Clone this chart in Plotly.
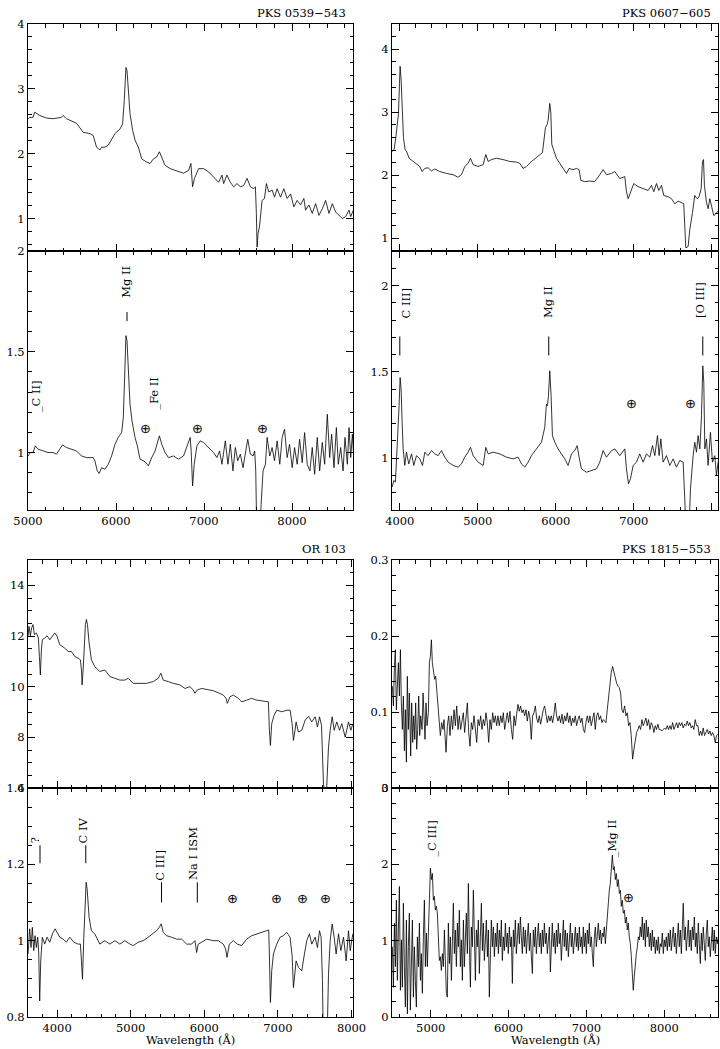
import plotly.graph_objects as go

# ---------------- DATA ----------------
# PKS 0539-543 : flux (upper) and normalised (lower)
tl_up_wave = [5000,5019,5057,5076,5133,5209,5285,5380,5399,5437,5551,5627,5703,5741,5779,5817,5836,5874,5912,5950,
              5988,6045,6075,6094,6113,6125,6140,6159,6189,6216,6254,6292,6349,6387,6425,6463,6493,6520,6558,6615,
              6691,6767,6824,6851,6870,6892,6938,6995,7052,7109,7166,7204,7223,7261,7299,7337,7375,7413,7451,7489,
              7527,7565,7584,7595,7603,7614,7630,7660,7687,7709,7736,7774,7801,7831,7869,7907,7945,7983,8021,8059,
              8097,8135,8154,8192,8230,8268,8306,8344,8382,8420,8458,8496,8534,8572,8610,8648,8667,8697]
tl_up_flux = [2.54,2.56,2.56,2.64,2.59,2.55,2.54,2.56,2.59,2.54,2.47,2.33,2.31,2.28,2.10,2.06,2.10,2.10,2.13,2.21,
              2.31,2.38,2.46,2.82,3.33,3.28,3.03,2.62,2.36,2.21,2.10,1.92,1.87,1.85,1.92,1.95,2.03,1.95,1.82,1.77,
              1.74,1.70,1.74,1.85,1.49,1.62,1.77,1.77,1.72,1.64,1.56,1.67,1.54,1.67,1.56,1.49,1.54,1.49,1.51,1.62,
              1.49,1.46,1.49,1.08,0.56,0.77,0.87,1.28,1.31,1.54,1.41,1.44,1.33,1.46,1.33,1.46,1.31,1.38,1.18,1.28,
              1.21,1.31,1.13,1.21,1.08,1.23,1.05,1.15,1.28,1.08,1.23,1.10,1.05,1.00,1.03,1.13,1.03,1.13]
tl_lo_wave = [5000,5027,5057,5084,5114,5171,5228,5285,5323,5361,5391,5437,5494,5551,5608,5665,5741,5760,5787,5809,
              5836,5874,5912,5950,5988,6026,6064,6083,6098,6113,6125,6140,6159,6182,6216,6243,6273,6330,6368,6406,
              6444,6493,6520,6558,6596,6653,6710,6767,6805,6843,6854,6870,6889,6919,6957,6995,7033,7071,7109,7147,
              7177,7204,7242,7272,7299,7329,7356,7383,7413,7443,7470,7497,7527,7557,7576,7588,7599,7633,7649,7671,
              7698,7717,7747,7774,7801,7831,7861,7888,7915,7945,7972,8002,8029,8059,8086,8116,8143,8173,8203,8230,
              8257,8287,8314,8344,8371,8401,8428,8450,8477,8504,8526,8553,8580,8602,8629,8648,8667,8686,8697]
tl_lo_norm = [0.983,1.0,1.0,1.033,1.017,1.008,1.0,1.0,0.992,1.017,1.038,1.025,1.017,1.008,0.983,0.975,0.975,0.959,0.909,0.896,
              0.925,0.917,0.942,0.983,1.041,1.075,1.099,1.174,1.373,1.580,1.555,1.406,1.240,1.157,1.075,1.033,0.967,0.955,0.934,0.975,
              1.008,1.083,1.041,1.0,0.975,0.983,0.967,0.983,1.025,1.075,1.008,0.834,0.942,1.033,1.058,1.050,1.033,1.017,1.0,0.975,
              1.008,0.942,1.058,0.942,1.041,0.909,1.025,0.959,0.992,0.925,1.008,1.066,0.992,0.983,1.008,0.909,0.60,0.60,0.743,0.909,
              0.942,1.075,0.983,1.025,0.959,1.058,0.942,1.075,1.116,0.975,1.041,0.925,1.025,0.942,1.066,0.950,1.099,0.942,0.909,1.025,
              0.892,1.075,0.909,1.050,0.942,1.190,0.975,1.091,0.925,1.124,0.942,1.025,0.909,1.075,0.942,1.124,0.975,1.091,1.008]

# PKS 0607-605
tr_up_wave = [3902,3927,3949,3970,3983,3996,4004,4017,4030,4047,4068,4090,4120,4171,4214,4256,4286,4321,4363,4406,
              4449,4513,4598,4684,4748,4791,4833,4876,4906,4940,5004,5069,5103,5133,5175,5239,5325,5410,5496,5539,
              5581,5624,5688,5774,5829,5868,5889,5902,5923,5936,5949,5979,6009,6052,6094,6137,6171,6222,6265,6299,
              6321,6372,6436,6500,6564,6607,6650,6714,6757,6821,6885,6906,6928,6958,7000,7056,7120,7184,7227,7257,
              7291,7321,7355,7385,7441,7483,7526,7569,7624,7641,7654,7667,7697,7718,7753,7782,7812,7838,7864,7881,
              7894,7906,7932,7953,7975,7996,8026,8052,8081]
tr_up_flux = [2.38,2.41,2.60,2.92,2.98,3.46,3.73,3.51,3.08,2.60,2.41,2.37,2.27,2.22,2.19,2.14,2.06,2.11,2.12,2.07,
              2.10,2.06,2.03,2.01,1.97,2.01,2.14,2.19,2.27,2.17,2.14,2.17,2.33,2.22,2.25,2.27,2.25,2.22,2.21,2.19,
              2.11,2.14,2.22,2.30,2.36,2.76,2.81,2.87,3.14,3.00,2.49,2.38,2.27,2.19,2.11,2.03,2.11,2.09,2.11,2.09,
              1.92,1.90,1.91,1.90,2.01,2.09,2.01,2.03,2.06,1.95,1.98,1.74,1.63,1.74,1.87,1.82,1.79,1.76,1.84,1.74,
              1.87,1.76,1.84,1.68,1.66,1.63,1.55,1.59,1.56,1.55,1.20,0.85,0.87,1.14,1.41,1.68,1.63,1.66,1.79,2.22,
              2.25,1.84,1.57,1.47,1.63,1.52,1.36,1.39,1.44]
tr_lo_wave = [3902,3923,3944,3957,3974,3991,4004,4017,4030,4043,4064,4085,4115,4150,4180,4214,4256,4291,4321,4363,
              4406,4449,4492,4534,4577,4620,4684,4748,4791,4833,4876,4906,4940,5004,5069,5103,5133,5197,5282,5368,
              5453,5517,5560,5603,5645,5688,5752,5816,5859,5880,5893,5906,5923,5940,5957,5987,6030,6073,6116,6158,
              6201,6244,6274,6299,6329,6393,6458,6522,6564,6607,6650,6714,6757,6821,6885,6906,6932,6958,6992,7035,
              7077,7120,7163,7206,7240,7270,7304,7325,7347,7376,7419,7462,7505,7547,7590,7633,7654,7667,7710,7727,
              7761,7782,7804,7825,7847,7868,7885,7898,7911,7932,7953,7983,8009,8039,8060,8081]
tr_lo_norm = [0.833,0.871,0.862,0.977,1.092,1.304,1.467,1.40,1.208,1.054,0.958,1.035,0.967,1.025,0.958,1.015,0.996,0.958,1.035,1.015,
              1.044,1.025,1.015,1.044,1.006,0.977,0.958,0.948,0.967,1.006,1.035,1.063,1.015,0.977,0.958,1.063,1.025,1.035,1.025,1.006,
              0.996,1.006,0.967,0.948,0.977,1.015,1.054,1.092,1.179,1.313,1.304,1.362,1.506,1.362,1.131,1.092,1.054,1.025,0.996,0.958,
              1.025,1.044,1.073,1.006,0.938,0.919,0.929,0.938,0.977,1.044,1.006,1.044,1.054,1.015,1.054,0.938,0.852,0.881,0.958,0.977,
              1.025,0.977,1.025,1.006,1.073,1.015,1.131,1.015,1.112,0.977,1.015,0.958,0.996,0.948,0.987,0.977,0.765,0.60,0.60,0.823,
              1.015,1.092,1.035,1.131,1.054,1.246,1.535,1.438,1.054,1.112,0.958,1.150,0.977,1.015,0.90,0.977]

# OR 103
bl_up_wave = [3605,3619,3637,3655,3673,3692,3719,3746,3760,3773,3787,3800,3832,3864,3900,3937,3968,4000,4036,4104,
              4150,4195,4240,4286,4317,4331,4340,4354,4367,4385,4399,4413,4435,4467,4512,4580,4649,4717,4785,4853,
              4921,4966,5034,5125,5215,5306,5374,5410,5442,5510,5578,5669,5737,5805,5850,5873,5905,5964,6032,6122,
              6190,6258,6295,6313,6349,6394,6463,6508,6576,6644,6712,6780,6848,6871,6884,6898,6916,6948,6984,7052,
              7120,7165,7193,7211,7229,7247,7279,7324,7370,7415,7460,7506,7537,7565,7592,7610,7619,7655,7687,7710,
              7737,7764,7800,7837,7868,7914,7959,7991,8018]
bl_up_flux = [11.99,12.38,12.01,12.32,12.45,12.05,12.12,11.92,11.19,10.46,11.46,11.85,11.92,12.01,11.85,11.99,12.12,11.99,11.66,11.52,
              11.39,11.39,11.19,11.13,11.06,10.66,10.07,10.66,11.72,12.45,12.65,12.45,11.72,11.06,10.79,10.60,10.66,10.40,10.33,10.26,
              10.26,10.33,10.13,10.13,10.13,10.20,10.33,10.53,10.26,10.20,10.13,10.07,9.93,10.0,9.87,9.74,9.87,9.93,9.89,9.84,
              9.76,9.67,9.54,9.34,9.60,9.67,9.54,9.40,9.47,9.54,9.47,9.44,9.40,9.40,8.28,7.68,8.54,8.87,9.07,9.01,
              9.07,9.07,8.54,7.88,8.21,8.61,8.21,8.28,8.68,8.83,8.61,8.81,8.41,8.81,8.48,7.09,6.16,5.5,7.62,8.28,
              8.81,8.28,8.61,8.28,8.54,8.01,8.61,8.28,8.54]
bl_lo_wave = [3605,3628,3646,3664,3683,3701,3719,3737,3751,3764,3778,3800,3832,3864,3900,3937,3973,4000,4036,4082,
              4127,4172,4227,4286,4317,4331,4345,4363,4381,4395,4408,4435,4467,4512,4580,4649,4717,4785,4853,4921,
              4989,5034,5102,5170,5238,5306,5351,5388,5415,5442,5487,5556,5624,5692,5760,5828,5873,5896,5918,5964,
              6032,6122,6190,6258,6290,6308,6340,6394,6449,6508,6576,6644,6712,6780,6848,6875,6884,6898,6916,6939,
              6984,7029,7075,7120,7165,7193,7211,7229,7247,7279,7324,7360,7392,7428,7460,7506,7537,7565,7587,7605,
              7619,7664,7687,7710,7737,7764,7791,7823,7855,7891,7927,7959,7982,8018]
bl_lo_norm = [0.965,1.031,0.982,1.035,0.974,1.013,0.982,1.009,0.965,0.842,0.947,1.009,0.991,1.009,0.996,1.018,1.031,1.022,1.009,1.004,
              0.996,1.009,0.996,0.991,0.991,0.947,0.899,1.009,1.105,1.153,1.136,1.061,1.026,1.018,0.991,1.0,0.991,1.0,0.991,1.0,
              0.991,0.987,0.996,1.0,1.009,1.018,1.026,1.035,1.044,1.022,1.013,1.009,1.004,1.004,0.991,0.991,1.0,0.969,0.991,0.996,
              1.004,1.0,1.0,0.991,0.978,0.956,0.991,1.0,0.991,0.987,1.004,1.013,1.018,1.022,1.026,1.028,0.965,0.838,0.921,0.965,
              0.991,1.009,1.013,1.022,1.009,0.961,0.877,0.912,0.947,0.93,0.921,0.965,1.0,1.018,0.991,1.009,0.982,1.026,1.009,0.895,
              0.70,0.70,0.912,1.0,1.044,1.009,0.965,1.018,0.974,1.009,0.947,1.026,0.974,1.018]

# PKS 1815-553
br_up_wave = [4508,4521,4534,4546,4559,4572,4585,4598,4611,4623,4636,4649,4662,4675,4688,4700,4713,4726,
              4743,4756,4769,4782,4795,4807,4820,4833,4846,4859,4872,4889,4902,4914,4927,4940,4953,
              4970,4983,4996,5009,5021,5034,5051,5064,5077,5094,5111,5124,5141,5158,5171,5184,5197,5214,
              5231,5248,5265,5282,5300,5317,5334,5351,5368,5385,
              5402,5419,5436,5454,5471,5488,5505,5522,5539,5556,
              5573,5591,5608,5625,5642,5659,5676,5693,5710,5727,
              5745,5762,5779,5796,5813,5830,5847,5864,5881,5899,
              5916,5933,5950,5967,5984,6001,6018,6036,6053,6070,
              6087,6104,6121,6138,6155,6172,6190,6207,6224,6241,
              6258,6275,6292,6309,6326,6344,6361,6378,6395,6412,
              6429,6446,6463,6481,6498,6515,6532,6549,6566,6583,
              6600,6617,6635,6652,6669,6686,6703,6720,6737,6754,
              6772,6789,6806,6823,6840,6857,6874,6891,6908,6926,
              6943,6960,6977,6994,7011,7028,7045,7062,7080,7097,
              7114,7131,7148,7165,7182,7199,7217,7234,7251,7268,
              7285,7302,7319,7336,7353,7371,7388,7405,7422,7439,
              7456,7473,7490,7508,7525,7542,7559,7576,7593,7610,
              7627,7644,7662,7679,7696,7713,7730,7747,7764,7781,
              7798,7816,7833,7850,7867,7884,7901,7918,7935,7953,
              7970,7987,8004,8021,8038,8055,8072,8089,8107,8124,
              8141,8158,8175,8192,8209,8226,8243,8261,8278,8295,
              8312,8329,8346,8363,8380,8397,8415,8432,8449,8466,
              8483,8500,8517,8534,8552,8569,8586,8603,8620,8637,
              8654,8671,8693]
br_up_flux = [0.134,0.108,0.160,0.182,0.103,0.134,0.165,0.121,0.182,0.112,0.077,0.121,0.049,0.103,0.034,0.147,0.077,0.125,
              0.042,0.112,0.060,0.095,0.064,0.112,0.051,0.077,0.121,0.069,0.095,0.077,0.125,0.095,0.064,0.112,0.082,
              0.099,0.165,0.173,0.195,0.165,0.152,0.143,0.147,0.130,0.108,0.082,0.069,0.086,0.077,0.090,0.069,0.047,0.082,
              0.095,0.069,0.095,0.077,0.103,0.082,0.108,0.077,0.095,0.077,
              0.088,0.099,0.073,0.095,0.112,0.073,0.055,0.086,0.077,0.095,
              0.077,0.060,0.090,0.082,0.095,0.077,0.090,0.082,0.099,0.086,
              0.060,0.090,0.077,0.099,0.086,0.095,0.082,0.095,0.082,0.095,
              0.086,0.099,0.077,0.090,0.099,0.086,0.101,0.077,0.064,0.095,
              0.082,0.097,0.110,0.101,0.108,0.099,0.103,0.095,0.103,0.088,
              0.101,0.092,0.064,0.095,0.099,0.108,0.092,0.086,0.095,0.084,
              0.097,0.103,0.108,0.097,0.086,0.095,0.088,0.095,0.086,0.097,
              0.112,0.095,0.088,0.095,0.086,0.097,0.084,0.095,0.088,0.099,
              0.086,0.095,0.082,0.092,0.086,0.095,0.082,0.090,0.095,0.086,
              0.092,0.077,0.073,0.086,0.095,0.086,0.095,0.082,0.090,0.099,
              0.077,0.095,0.099,0.090,0.095,0.086,0.090,0.088,0.086,0.103,
              0.121,0.138,0.152,0.160,0.152,0.147,0.138,0.134,0.132,0.125,
              0.103,0.099,0.108,0.095,0.099,0.082,0.086,0.069,0.038,0.051,
              0.060,0.073,0.077,0.082,0.077,0.090,0.082,0.088,0.092,0.082,
              0.090,0.077,0.086,0.082,0.073,0.082,0.077,0.084,0.077,0.077,
              0.075,0.077,0.079,0.077,0.082,0.077,0.082,0.077,0.086,0.077,
              0.082,0.086,0.079,0.086,0.082,0.086,0.079,0.084,0.082,0.088,
              0.082,0.086,0.079,0.082,0.077,0.090,0.082,0.082,0.069,0.075,
              0.069,0.079,0.069,0.073,0.077,0.071,0.075,0.069,0.073,0.069,
              0.060,0.069,0.071]
br_lo_wave = [4508,4521,4534,4547,4559,4572,4585,4598,4611,4624,
              4636,4649,4662,4675,4688,4701,4713,4726,4739,4752,
              4765,4778,4790,4803,4816,4829,4842,4855,4868,4880,
              4893,4906,4919,4932,4945,4957,4970,4983,4996,5009,
              5022,5034,5047,5060,5073,5086,5099,5111,5124,5137,
              5150,5163,5176,5189,5201,5214,5227,5240,5253,5266,
              5278,5291,5304,5317,5330,5343,5355,5368,5381,5394,
              5407,5420,5432,5445,5458,5471,5484,5497,5510,5522,
              5535,5548,5561,5574,5587,5599,5612,5625,5638,5651,
              5664,5676,5689,5702,5715,5728,5741,5753,5766,5779,
              5792,5805,5818,5831,5843,5856,5869,5882,5895,5908,
              5920,5933,5946,5959,5972,5985,5997,6010,6023,6036,
              6049,6062,6074,6087,6100,6113,6126,6139,6152,6164,
              6177,6190,6203,6216,6229,6241,6254,6267,6280,6293,
              6306,6318,6331,6344,6357,6370,6383,6395,6408,6421,
              6434,6447,6460,6473,6485,6498,6511,6524,6537,6550,
              6562,6575,6588,6601,6614,6627,6639,6652,6665,6678,
              6691,6704,6716,6729,6742,6755,6768,6781,6794,6806,
              6819,6832,6845,6858,6871,6883,6896,6909,6922,6935,
              6948,6960,6973,6986,6999,7012,7025,7037,7050,7063,
              7076,7089,7102,7115,7127,7140,7153,7166,7179,7192,
              7204,7217,7230,7243,7256,7269,7281,7294,7307,7320,
              7333,7346,7358,7371,7384,7397,7410,7423,7436,7448,
              7461,7474,7487,7500,7513,7525,7538,7551,7564,7577,
              7590,7602,7615,7628,7641,7654,7667,7679,7692,7705,
              7718,7731,7744,7757,7769,7782,7795,7808,7821,7834,
              7846,7859,7872,7885,7898,7911,7923,7936,7949,7962,
              7975,7988,8000,8013,8026,8039,8052,8065,8078,8090,
              8103,8116,8129,8142,8155,8167,8180,8193,8206,8219,
              8232,8244,8257,8270,8283,8296,8309,8321,8334,8347,
              8360,8373,8386,8399,8411,8424,8437,8450,8463,8476,
              8488,8501,8514,8527,8540,8553,8565,8578,8591,8604,
              8617,8630,8642,8655,8668,8681,8694]
br_lo_norm = [0.92,0.39,1.23,0.66,1.53,0.48,1.14,1.71,0.35,1.01,
              0.39,1.49,0.66,0.13,1.27,0.04,0.92,1.36,0.09,0.79,
              1.27,0.26,0.92,0.48,0.13,1.05,0.66,1.23,0.48,0.83,
              0.31,1.05,1.53,0.66,1.10,0.66,1.18,1.66,1.95,1.80,
              1.88,1.53,1.58,1.40,1.45,1.36,0.92,0.74,0.79,0.61,
              0.83,0.66,1.14,0.57,0.31,0.26,1.23,0.70,1.05,0.48,
              0.92,1.49,0.83,1.14,0.66,1.23,0.92,1.40,0.66,1.01,
              0.48,1.27,0.66,1.01,1.36,0.83,1.75,0.92,0.39,1.18,
              0.92,1.66,0.79,0.48,1.14,0.92,1.27,0.57,1.05,1.49,
              0.87,1.23,0.74,1.10,1.27,0.79,1.14,0.26,1.01,1.27,
              0.92,1.18,0.79,1.10,0.92,1.23,0.83,1.14,0.92,1.27,
              0.74,1.05,0.87,1.23,0.92,1.10,0.83,1.18,0.92,1.05,
              0.44,1.14,0.92,1.27,0.83,1.10,1.23,0.96,1.31,1.05,
              0.83,1.18,0.92,1.14,0.83,1.05,1.23,0.87,1.10,0.79,
              0.57,1.14,0.92,1.18,0.83,1.05,1.23,0.92,1.10,0.83,
              1.14,0.92,1.23,0.96,1.10,0.83,1.05,1.18,0.59,1.05,
              1.23,0.92,1.10,0.83,1.14,0.92,1.23,0.96,1.10,0.74,
              1.05,1.27,0.92,1.14,0.87,1.10,0.79,1.05,1.23,0.92,
              1.10,0.83,1.05,1.18,0.92,1.10,0.87,1.18,0.92,1.05,
              0.83,1.18,0.92,1.10,0.83,1.14,0.96,1.23,0.92,1.05,
              0.83,0.66,1.05,1.18,0.92,1.10,1.23,1.01,1.14,0.96,
              1.10,1.05,1.18,0.96,1.14,1.36,1.53,1.66,1.75,1.97,
              2.12,1.93,1.97,1.80,1.88,1.71,1.80,1.62,1.66,1.45,
              1.53,1.36,1.40,1.23,1.31,1.14,1.23,1.05,0.96,0.79,
              0.57,0.35,0.53,0.74,0.83,0.92,1.05,1.01,1.18,1.05,
              1.31,1.01,1.23,0.92,1.27,1.05,1.18,0.92,1.10,0.87,
              1.14,0.92,1.05,0.83,1.01,0.87,1.05,0.83,0.96,0.92,
              1.10,0.83,1.01,0.92,1.05,0.87,1.10,0.92,1.14,0.87,
              1.05,1.18,0.92,1.10,0.83,1.05,1.23,0.92,1.14,0.83,
              1.10,1.49,1.01,1.18,0.87,1.10,1.27,0.92,1.14,0.87,
              1.18,1.01,1.31,0.92,1.10,0.83,1.23,0.96,0.70,1.10,
              0.87,1.18,0.92,0.74,1.10,1.27,0.92,1.05,0.79,1.01,
              1.18,0.87,1.14,0.83,1.05,0.96,1.05]

titles = ["PKS 0539\u2212543", "PKS 0607\u2212605", "OR 103", "PKS 1815\u2212553"]

# line identifications: (wavelength, label, y of label bottom)
tl_ids = [(5091, "_C II]", 1.19), (6432, "_Fe II", 1.20), (6110, "Mg II", 1.756)]
tl_ticks = [(6125, 1.652, 1.697)]
tl_earth = [(6330, 1.12), (6930, 1.12), (7660, 1.12)]

tr_ids = [(4079, "C III]", 1.80), (5900, "Mg II", 1.80), (7849, "[O III]", 1.80)]
tr_ticks = [(4000, 1.595, 1.705), (5910, 1.595, 1.705), (7885, 1.595, 1.705)]
tr_earth = [(6973, 1.318), (7733, 1.318)]

bl_ids = [(3700, "?", 1.25), (4354, "C IV", 1.25), (5397, "C III]", 1.153), (5850, "Na I ISM", 1.153)]
bl_ticks = [(3768, 1.203, 1.25), (4390, 1.203, 1.25), (5419, 1.10, 1.153), (5905, 1.10, 1.153)]
bl_earth = [(6381, 1.11), (6984, 1.11), (7333, 1.11), (7642, 1.11)]

br_ids = [(5013, "_C III]", 2.07), (7332, "_Mg II", 2.07)]
br_ticks = []
br_earth = [(7537, 1.57)]

# ---------------- FIGURE ----------------
W, H = 720, 1049
FONT = "DejaVu Serif"

def xdom(a, b):
    return [a / W, b / W]

def ydom(top, bot):
    return [1 - bot / H, 1 - top / H]

fig = go.Figure()

spec = [
    ((28, 353), (24, 251), (251, 510), [5000, 8693], [0.5, 4], 1, 0.2, [0.715, 2], 0.5, 0.1,
     tl_up_wave, tl_up_flux, tl_lo_wave, tl_lo_norm, tl_ids, tl_ticks, tl_earth, titles[0], False),
    ((392, 718), (24, 251), (251, 510), [3900, 8080], [0.8, 4.4], 1, 0.2, [0.7, 2.2], 0.5, 0.1,
     tr_up_wave, tr_up_flux, tr_lo_wave, tr_lo_norm, tr_ids, tr_ticks, tr_earth, titles[1], False),
    ((28, 353), (560, 788), (788, 1017), [3605, 8020], [6, 15], 2, 0.5, [0.8, 1.4], 0.2, 0.05,
     bl_up_wave, bl_up_flux, bl_lo_wave, bl_lo_norm, bl_ids, bl_ticks, bl_earth, titles[2], True),
    ((392, 718), (560, 788), (788, 1017), [4503, 8690], [0, 0.3], 0.1, 0.02, [0, 3], 1, 0.2,
     br_up_wave, br_up_flux, br_lo_wave, br_lo_norm, br_ids, br_ticks, br_earth, titles[3], True),
]

def axis_style(rng, dtick, minor, showlabels=True):
    return dict(range=rng, dtick=dtick, tick0=0, showline=True, linecolor="black", linewidth=1,
                mirror="allticks", ticks="inside", ticklen=7, tickwidth=1, tickcolor="black",
                showgrid=False, zeroline=False, showticklabels=showlabels, automargin=False,
                tickfont=dict(family=FONT, size=11.5, color="black"),
                minor=dict(dtick=minor, ticks="inside", ticklen=3.5, tickwidth=1,
                           tickcolor="black", showgrid=False))

annotations = []
shapes = []
layout_axes = {}
n = 0
for (xp, upy, loy, xr, upr, upd, upm, lor, lod, lom,
     uw, uf, lw, lf, ids, ticks, earth, title, xlabel) in spec:
    for sub, (w, f, ypix, yr, yd, ym) in enumerate([(uw, uf, upy, upr, upd, upm),
                                                   (lw, lf, loy, lor, lod, lom)]):
        n += 1
        xa = "x" if n == 1 else f"x{n}"
        ya = "y" if n == 1 else f"y{n}"
        xkey = "xaxis" if n == 1 else f"xaxis{n}"
        ykey = "yaxis" if n == 1 else f"yaxis{n}"
        fig.add_trace(go.Scatter(x=w, y=f, mode="lines", xaxis=xa, yaxis=ya,
                                 line=dict(color="black", width=0.8),
                                 showlegend=False, hoverinfo="skip"))
        xs = axis_style(xr, 1000, 200, showlabels=(sub == 1))
        xs.update(domain=xdom(*xp), anchor=ya)
        ys = axis_style(yr, yd, ym)
        ys.update(domain=ydom(*ypix), anchor=xa)
        layout_axes[xkey] = xs
        layout_axes[ykey] = ys
        if sub == 1:
            for (lam, txt, yb) in ids:
                annotations.append(dict(x=lam, y=yb, xref=xa, yref=ya, text=txt, textangle=-90,
                                        showarrow=False, xanchor="center", yanchor="bottom",
                                        font=dict(family=FONT, size=11.5, color="black")))
            for (lam, y0, y1) in ticks:
                shapes.append(dict(type="line", xref=xa, yref=ya, x0=lam, x1=lam, y0=y0, y1=y1,
                                   line=dict(color="black", width=1)))
            for (lam, yy) in earth:
                annotations.append(dict(x=lam, y=yy, xref=xa, yref=ya, text="\u2295",
                                        showarrow=False, xanchor="center", yanchor="middle",
                                        font=dict(family="DejaVu Sans", size=13, color="black")))
    annotations.append(dict(x=(xp[1] - 5) / W, y=1 - (upy[0] - 11) / H, xref="paper", yref="paper",
                            text=title, showarrow=False, xanchor="right", yanchor="middle",
                            font=dict(family=FONT, size=11.5, color="black")))
    if xlabel:
        annotations.append(dict(x=(xp[0] + xp[1]) / 2 / W, y=1 - 1040 / H, xref="paper", yref="paper",
                                text="Wavelength (\u00c5)", showarrow=False, xanchor="center",
                                yanchor="middle", font=dict(family=FONT, size=11.5, color="black")))

fig.update_layout(width=W, height=H, margin=dict(l=0, r=0, t=0, b=0),
                  paper_bgcolor="white", plot_bgcolor="white",
                  annotations=annotations, shapes=shapes, **layout_axes)

fig.write_html("out.html", config={"displayModeBar": False},
               post_script="document.body.style.margin='0px';document.body.style.padding='0px';"
                           "document.body.style.overflow='hidden';")
